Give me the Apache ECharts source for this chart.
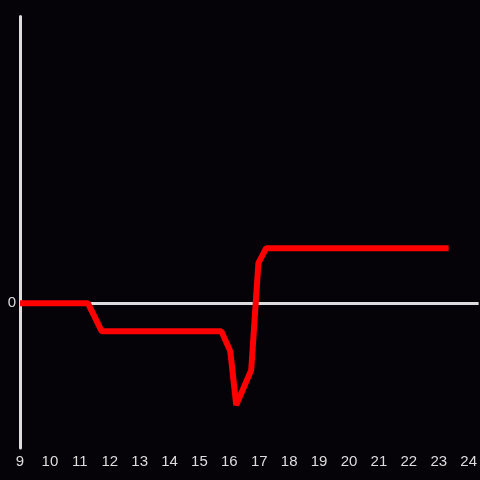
<!DOCTYPE html>
<html><head><meta charset="utf-8">
<script src="https://cdn.jsdelivr.net/npm/echarts@6/dist/echarts.min.js"></script>
<style>html,body{margin:0;padding:0;background:#050307;}#c{width:480px;height:480px;}</style>
</head><body><div id="c"></div>
<script>
const xValues = [9, 11.27, 11.73, 15.73, 16.03, 16.23, 16.73, 16.97, 17.23, 23.33];
const yValues = [0, 0, -2.8, -2.8, -4.8, -10.2, -6.7, 4.0, 5.5, 5.5];
const xTicks = [9,10,11,12,13,14,15,16,17,18,19,20,21,22,23,24];

const chart = echarts.init(document.getElementById('c'));
chart.setOption({
  backgroundColor: '#050307',
  animation: false,
  grid: {left: 20, right: 0, top: 16.5, bottom: 32},
  xAxis: {
    type: 'value', min: 9, max: 9 + 460/30, interval: 1,
    axisLine: {show: false, onZero: false},
    axisTick: {show: false},
    splitLine: {show: false},
    axisLabel: {color: '#dddddd', fontSize: 15, fontFamily: 'Liberation Sans, Arial, sans-serif', margin: 6,
      showMaxLabel: false,
      formatter: v => xTicks.includes(v) ? String(v) : ''}
  },
  yAxis: {
    type: 'value', min: -14.5, max: 28.7, interval: 14.5,
    axisLine: {show: true, lineStyle: {color: '#dddddd', width: 3}},
    axisTick: {show: false},
    splitLine: {show: false},
    axisLabel: {color: '#dddddd', fontSize: 15, fontFamily: 'Liberation Sans, Arial, sans-serif', margin: 4,
      formatter: v => v === 0 ? '0' : ''}
  },
  series: [{
    type: 'line',
    data: xValues.map((x, i) => [x, yValues[i]]),
    symbol: 'none',
    lineStyle: {color: '#ff0000', width: 6},
    z: 3,
    markLine: {
      silent: true, symbol: 'none', label: {show: false},
      lineStyle: {color: '#dddddd', width: 3, type: 'solid'},
      data: [{yAxis: 0}],
      z: 2
    }
  }]
});
</script></body></html>
